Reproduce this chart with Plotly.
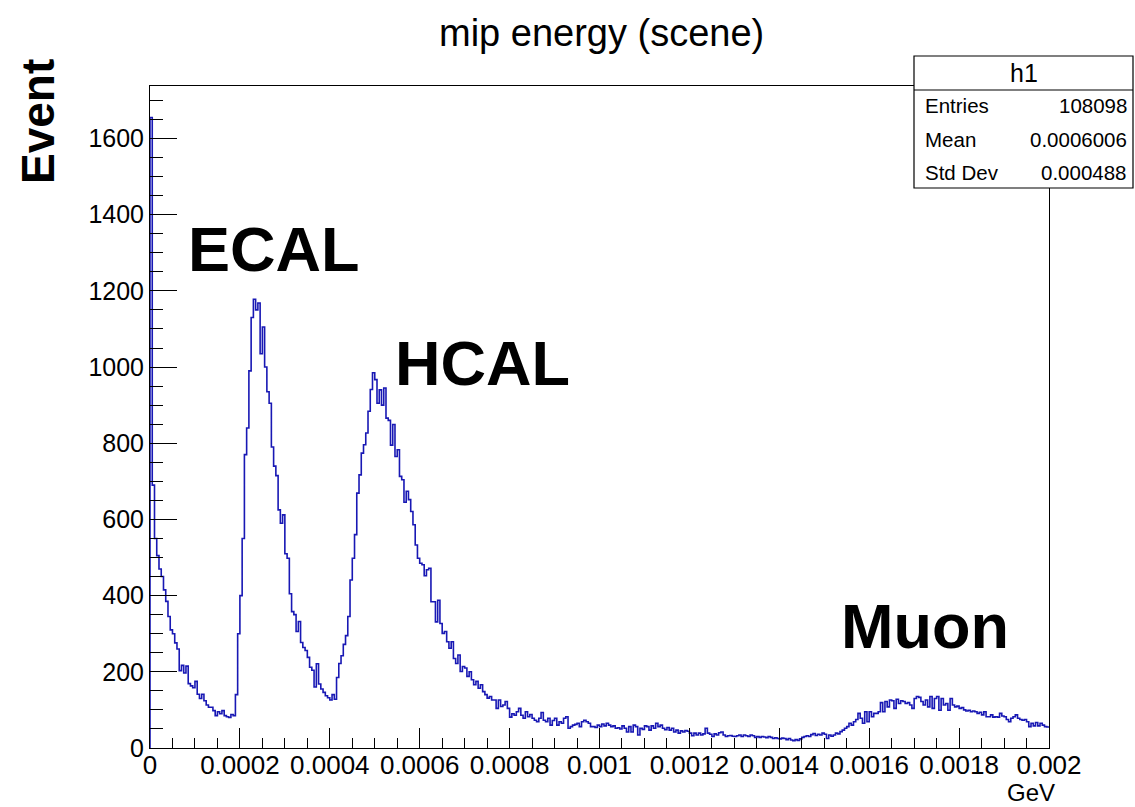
import plotly.graph_objects as go

# ---------------- data ----------------
BIN_WIDTH = 5e-6          # GeV, 400 bins from 0 to 0.002
counts_low = [1655, 690, 550, 505, 470, 450, 415, 385, 345, 310,
              300, 276, 260, 203, 217, 197, 215, 169, 163, 158,
              175, 141, 130, 141, 124, 113, 107, 107, 98, 85,
              95, 90, 98, 85, 82, 80, 88, 85]
counts_ecal = [140, 300, 400, 550, 770, 840, 990, 1130, 1178, 1150,
               1168, 1035, 1105, 1000, 935, 905, 790, 740, 715, 625,
               590, 612, 510, 498, 405, 358, 350, 306, 332, 277,
               264, 256, 238, 212, 204, 160, 221, 168, 155, 146,
               137, 132]
counts_hcal = [126, 140, 128, 185, 222, 242, 272, 295, 345, 441,
               498, 560, 669, 717, 774, 796, 827, 884, 941, 985,
               967, 905, 940, 900, 945, 866, 860, 795, 849, 765,
               783, 713, 704, 645, 674, 652, 621, 586, 533, 498,
               485, 481, 452, 468, 472, 384, 384, 331, 388, 327,
               301, 306, 279, 262, 279, 235, 222, 244, 201, 214,
               210, 188, 200, 179, 166, 175, 157, 166, 148, 140,
               131, 135, 126, 126, 104, 126, 109, 113, 122, 104]
counts_mid = [81, 90, 86, 95, 104, 86, 78, 95, 82, 88,
              78, 73, 69, 78, 93, 73, 69, 78, 60, 72,
              78, 60, 69, 65, 78, 82, 52, 56, 60, 62,
              65, 56, 69, 73, 69, 65, 56, 56, 54, 60,
              56, 63, 58, 65, 60, 56, 58, 52, 53, 50,
              58, 52, 42, 56, 42, 60, 56, 34, 52, 49,
              58, 56, 47, 58, 52, 65, 56, 60, 52, 48,
              54, 47, 52, 42, 47, 39, 45, 42, 46, 44,
              39, 32, 39, 34, 39, 34, 37, 52, 39, 36,
              30, 37, 34, 40, 42, 34, 30, 32, 33, 31,
              30, 32, 34, 30, 34, 32, 30, 34, 32, 28, 30,
              28, 30, 29, 27, 30, 28, 25, 27, 25, 24,
              26, 25, 22, 25, 21, 19, 22, 20, 24, 28,
              30, 32, 30, 35, 38, 33, 36]
counts_muon = [34, 39, 36, 25, 34, 31, 34, 39, 37, 43,
               47, 52, 56, 65, 60, 69, 75, 91, 78, 65,
               95, 69, 95, 82, 91, 91, 95, 119, 95, 122,
               108, 126, 124, 104, 128, 117, 124, 122, 117, 119,
               113, 104, 130, 135, 133, 122, 113, 126, 108, 135,
               104, 130, 135, 99, 130, 113, 117, 99, 130, 113,
               108, 110, 104, 106, 100, 97, 99, 95, 97, 95,
               91, 94, 87, 95, 82, 82, 87, 81, 82, 81,
               91, 84, 82, 75, 69, 78, 82, 87, 78, 75,
               73, 75, 69, 56, 65, 58, 67, 58, 65, 60, 56, 55]

counts = counts_low + counts_ecal + counts_hcal + counts_mid + counts_muon

x_ticks = [0, 0.0002, 0.0004, 0.0006, 0.0008, 0.001, 0.0012, 0.0014, 0.0016, 0.0018, 0.002]
x_tick_labels = ["0", "0.0002", "0.0004", "0.0006", "0.0008", "0.001",
                 "0.0012", "0.0014", "0.0016", "0.0018", "0.002"]
y_ticks = [0, 200, 400, 600, 800, 1000, 1200, 1400, 1600]
y_tick_labels = [str(v) for v in y_ticks]

stats_labels = ["Entries", "Mean", "Std Dev"]
stats_values = ["108098", "0.0006006", "0.000488"]
peak_labels = ["ECAL", "HCAL", "Muon"]
peak_pos = [(0.000275, 1310), (0.000740, 1010), (0.001725, 320)]

# ---------------- figure ----------------
W, H = 1135, 807
L, R, T, B = 150, 1049, 86, 748   # plot frame in pixels

def px(x):
    return (x - L) / (R - L)

def py(y):
    return (B - y) / (B - T)

edges = [i * BIN_WIDTH for i in range(len(counts) + 1)]
xs = [0] + edges
ys = [0] + counts + [counts[-1]]

FONT = "Liberation Sans, Arial, Helvetica, sans-serif"
LINE = "rgb(24,24,180)"

fig = go.Figure()
fig.add_trace(go.Scatter(x=xs, y=ys, mode="lines", line=dict(color=LINE, width=1.6, shape="hv"),
                         hoverinfo="skip", showlegend=False))

ymax = max(counts) * 1.05

fig.update_layout(
    width=W, height=H,
    margin=dict(l=L, r=W - R, t=T, b=H - B, pad=0),
    paper_bgcolor="white", plot_bgcolor="white",
    font=dict(family=FONT, color="black"),
    showlegend=False,
    xaxis=dict(range=[0, 0.002], showgrid=False, zeroline=False,
               showline=True, linecolor="black", linewidth=1, mirror=True,
               ticks="inside", ticklen=20, tickwidth=1, tickcolor="black",
               tickvals=x_ticks, ticktext=x_tick_labels, ticklabelstandoff=-6,
               tickfont=dict(size=26, family=FONT, color="black"),
               minor=dict(dtick=0.00005, ticks="inside", ticklen=10, tickcolor="black", tickwidth=1)),
    yaxis=dict(range=[0, ymax], showgrid=False, zeroline=False,
               showline=True, linecolor="black", linewidth=1, mirror=True,
               ticks="inside", ticklen=27, tickwidth=1, tickcolor="black",
               tickvals=y_ticks, ticktext=y_tick_labels,
               tickfont=dict(size=25, family=FONT, color="black"),
               minor=dict(dtick=50, ticks="inside", ticklen=13, tickcolor="black", tickwidth=1)),
)

annotations = []
# title
annotations.append(dict(text="mip energy (scene)", x=px(601), y=py(33), xref="paper", yref="paper",
                        showarrow=False, xanchor="center", yanchor="middle",
                        font=dict(size=38, family=FONT, color="black")))
# y-axis title
annotations.append(dict(text="<b>Event</b>", x=px(38), y=py(122), xref="paper", yref="paper",
                        showarrow=False, xanchor="center", yanchor="middle", textangle=-90,
                        font=dict(size=46, family=FONT, color="black")))
# x-axis title
annotations.append(dict(text="GeV", x=px(1056), y=py(807), xref="paper", yref="paper",
                        showarrow=False, xanchor="right", yanchor="bottom", borderpad=0,
                        font=dict(size=24, family=FONT, color="black")))
# peak labels
for lab, (xv, yv) in zip(peak_labels, peak_pos):
    annotations.append(dict(text="<b>%s</b>" % lab, x=xv, y=yv, xref="x", yref="y",
                            showarrow=False, xanchor="center", yanchor="middle",
                            font=dict(size=63, family=FONT, color="black")))

# stats box
bx0, bx1, by0, by1 = 914, 1133, 56, 188
shapes = [
    dict(type="rect", xref="paper", yref="paper", x0=px(bx0), x1=px(bx1), y0=py(by1), y1=py(by0),
         line=dict(color="black", width=1.2), fillcolor="white", layer="above"),
    dict(type="line", xref="paper", yref="paper", x0=px(bx0), x1=px(bx1), y0=py(90), y1=py(90),
         line=dict(color="black", width=1.2), layer="above"),
]
annotations.append(dict(text="h1", x=px((bx0 + bx1) / 2), y=py(73), xref="paper", yref="paper",
                        showarrow=False, xanchor="center", yanchor="middle",
                        font=dict(size=25, family=FONT, color="black")))
row_y = [106, 139, 172]
for lab, val, ry in zip(stats_labels, stats_values, row_y):
    annotations.append(dict(text=lab, x=px(923), y=py(ry), xref="paper", yref="paper",
                            showarrow=False, xanchor="left", yanchor="middle",
                            font=dict(size=20.5, family=FONT, color="black")))
    annotations.append(dict(text=val, x=px(1129), y=py(ry), xref="paper", yref="paper",
                            showarrow=False, xanchor="right", yanchor="middle",
                            font=dict(size=20.5, family=FONT, color="black")))

fig.update_layout(annotations=annotations, shapes=shapes)

fig.write_html("out.html")
